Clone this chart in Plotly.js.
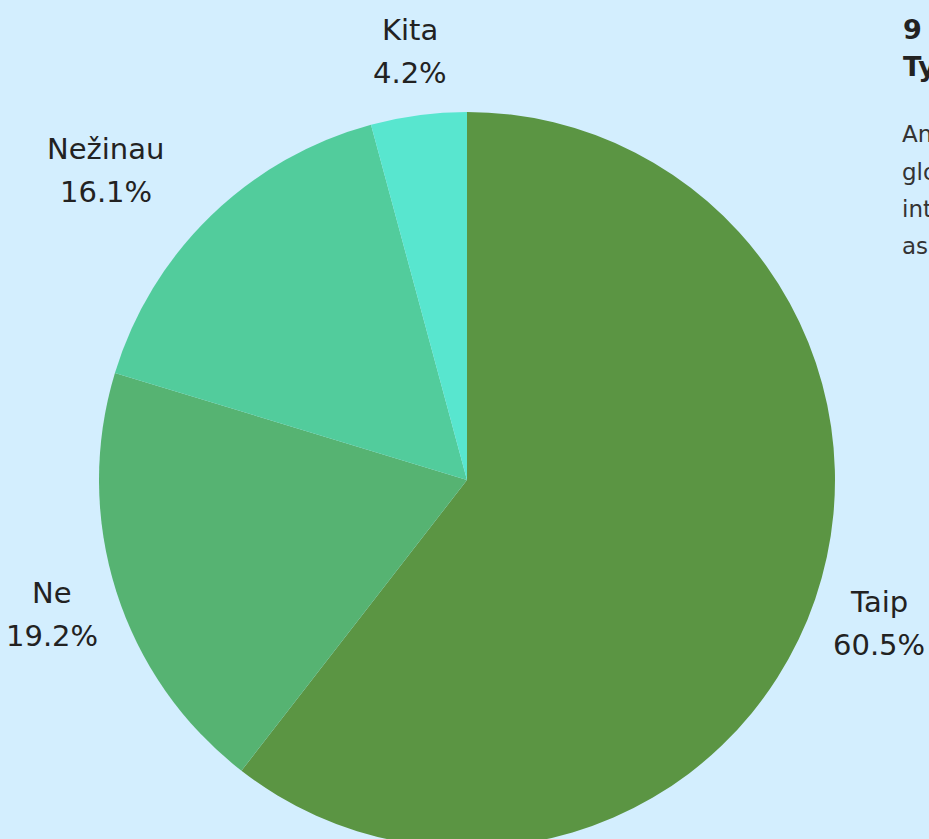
<!DOCTYPE html>
<html><head><meta charset="utf-8">
<script src="https://cdn.plot.ly/plotly-3.0.1.min.js"></script>
<style>html,body{margin:0;padding:0;overflow:hidden;background:#d3eefe;}</style>
</head><body><div id="chart"></div>
<script>
const labels = ["Taip", "Ne", "Nežinau", "Kita"];
const values = [60.5, 19.2, 16.1, 4.2];
const colors = ["#5b9543", "#56b372", "#52cc9c", "#58e6cf"];
const sideTitle = ["9 pav.", "Tyrimo rezultatai"];
const sideText = ["Anketos klausimas", "gloria", "internetu", "asmenys"];

const W = 929, H = 860;
const cx = 467, cy = 480, R = 368, labelR = 435, lineGap = 43, clearance = 8, textDrop = 3;
const font = "DejaVu Sans, sans-serif";
const fs = 29;
const ctx = document.createElement("canvas").getContext("2d");
ctx.font = fs + "px DejaVu Sans";
const ann = [];
const total = values.reduce((a, b) => a + b, 0);
let cum = 0;
values.forEach((v, i) => {
  const mid = (cum + v / 2) / total * 2 * Math.PI;
  cum += v;
  const pct = v.toFixed(1) + "%";
  const w = Math.max(ctx.measureText(labels[i]).width, ctx.measureText(pct).width);
  const h = lineGap + fs;
  let px = cx + labelR * Math.sin(mid);
  const py = cy - labelR * Math.cos(mid) + textDrop;
  // if the centred box would come too close to the pie, put its near edge at the point instead
  const nx = px - Math.sign(Math.sin(mid)) * w / 2, ny = py + Math.sign(Math.cos(mid)) * h / 2;
  if (Math.hypot(nx - cx, ny - cy) < R + clearance) px += Math.sign(Math.sin(mid)) * w / 2;
  ann.push({x: px / W, y: 1 - (py - lineGap / 2) / H, xref: "paper", yref: "paper", text: labels[i],
    showarrow: false, xanchor: "center", yanchor: "middle", font: {family: font, size: fs, color: "#222"}});
  ann.push({x: px / W, y: 1 - (py + lineGap / 2) / H, xref: "paper", yref: "paper", text: pct,
    showarrow: false, xanchor: "center", yanchor: "middle", font: {family: font, size: fs, color: "#222"}});
});
sideTitle.forEach((t, i) => {
  ann.push({x: 901 / W, y: 1 - (29 + i * 38) / H, xref: "paper", yref: "paper", text: "<b>" + t + "</b>",
    showarrow: false, xanchor: "left", yanchor: "middle", font: {family: font, size: 27, color: "#222"}});
});
sideText.forEach((t, i) => {
  ann.push({x: 900 / W, y: 1 - (134 + i * 37.5) / H, xref: "paper", yref: "paper", text: t,
    showarrow: false, xanchor: "left", yanchor: "middle", font: {family: font, size: 23, color: "#333"}});
});

Plotly.newPlot("chart", [{
  type: "pie", labels: labels, values: values, sort: false, direction: "clockwise", rotation: 0,
  marker: {colors: colors, line: {width: 0}}, textinfo: "none", hoverinfo: "label+percent",
  domain: {x: [(cx - R) / W, (cx + R) / W], y: [(H - cy - R) / H, (H - cy + R) / H]}
}], {
  width: W, height: H, margin: {l: 0, r: 0, t: 0, b: 0}, showlegend: false,
  paper_bgcolor: "#d3eefe", plot_bgcolor: "#d3eefe", annotations: ann
}, {displayModeBar: false, staticPlot: true});
</script></body></html>
